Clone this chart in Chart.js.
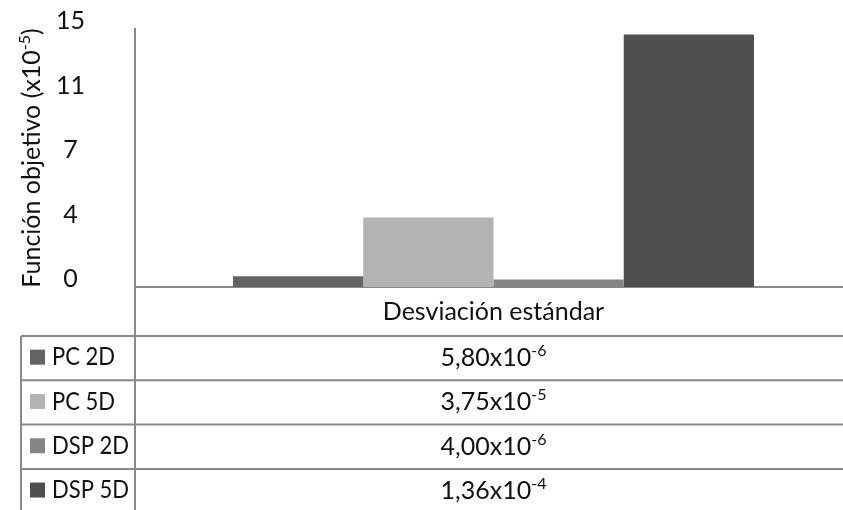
<!DOCTYPE html>
<html>
<head>
<meta charset="utf-8">
<script src="https://cdn.jsdelivr.net/npm/chart.js@4/dist/chart.umd.min.js"></script>
<style>
  html, body { margin: 0; padding: 0; overflow: hidden; background: #fff; }
  #wrap { width: 852px; height: 510px; position: relative; }
</style>
</head>
<body>
<div id="wrap"><canvas id="c"></canvas></div>
<script>
// Objective function standard deviation per method, in units of 1e-5
const categories = ['Desviación estándar'];
const seriesNames = ['PC 2D', 'PC 5D', 'DSP 2D', 'DSP 5D'];
const seriesValues = [0.58, 3.75, 0.40, 13.6];
const seriesColors = ['#636363', '#b3b3b3', '#848484', '#4f4f4f'];
const yTickLabels = ['0', '4', '7', '11', '15'];
const yTitleMain = 'Función objetivo (x10';
const yTitleSup = '-5';
const yTitleEnd = ')';
const unitScale = 1e-5;

const FONT = 'Lato, "Open Sans", sans-serif';
const FONT_SIZE = 25;
const SUP_SIZE = 16;
const LINE_COLOR = '#898989';
const TEXT_COLOR = '#111';
const Y_MAX = 13.9;

// Scientific notation with a decimal comma: mantissa and exponent
function sciParts(v) {
  const x = v * unitScale;
  const e = Math.floor(Math.log10(x));
  const m = x / Math.pow(10, e);
  return { mant: m.toFixed(2).replace('.', ','), exp: String(e) };
}

// Text followed by a raised superscript run and an optional tail
function drawSupText(ctx, x, y, main, sup, tail, align) {
  const f = `${FONT_SIZE}px ${FONT}`;
  const fs = `${SUP_SIZE}px ${FONT}`;
  ctx.font = f; const w1 = ctx.measureText(main).width;
  ctx.font = fs; const w2 = ctx.measureText(sup).width;
  ctx.font = f; const w3 = tail ? ctx.measureText(tail).width : 0;
  const total = w1 + w2 + w3;
  const sx = align === 'center' ? x - total / 2 : x;
  ctx.textAlign = 'left';
  ctx.textBaseline = 'alphabetic';
  ctx.font = f; ctx.fillText(main, sx, y);
  ctx.font = fs; ctx.fillText(sup, sx + w1, y - 10);
  if (tail) { ctx.font = f; ctx.fillText(tail, sx + w1 + w2, y); }
}

const tablePlugin = {
  id: 'dataTable',
  afterDraw(chart) {
    const ctx = chart.ctx;
    const area = chart.chartArea;
    const W = chart.width, H = chart.height;
    const headerBottom = area.bottom + 49;
    const rowH = 44.3;
    const tableLeft = 21;
    ctx.save();
    ctx.strokeStyle = LINE_COLOR;
    ctx.lineWidth = 2;
    ctx.beginPath();
    // axis line continued through the table
    ctx.moveTo(area.left, area.bottom);
    ctx.lineTo(area.left, H);
    // table left edge
    ctx.moveTo(tableLeft, headerBottom);
    ctx.lineTo(tableLeft, H);
    for (let i = 0; i < seriesNames.length; i++) {
      const y = headerBottom + i * rowH;
      ctx.moveTo(tableLeft, y);
      ctx.lineTo(W, y);
    }
    ctx.stroke();

    const cx = (area.left + area.right) / 2;
    seriesNames.forEach((name, i) => {
      const mid = headerBottom + i * rowH + rowH / 2;
      // legend key
      ctx.fillStyle = seriesColors[i];
      ctx.fillRect(30, mid - 8.5, 15, 15);
      // legend label, slightly condensed to fit the key column
      ctx.fillStyle = TEXT_COLOR;
      ctx.font = `${FONT_SIZE}px ${FONT}`;
      ctx.textAlign = 'left';
      ctx.textBaseline = 'middle';
      ctx.save();
      ctx.translate(52, mid - 1);
      ctx.scale(0.88, 1);
      ctx.fillText(name, 0, 0);
      ctx.restore();
      // value cell
      const p = sciParts(seriesValues[i]);
      drawSupText(ctx, cx, mid + 8, p.mant + 'x10', p.exp, '', 'center');
    });

    // rotated y-axis title with superscript
    ctx.translate(40, (area.top + area.bottom) / 2);
    ctx.rotate(-Math.PI / 2);
    drawSupText(ctx, 0, 0, yTitleMain, yTitleSup, yTitleEnd, 'center');
    ctx.restore();
  }
};

new Chart(document.getElementById('c'), {
  type: 'bar',
  data: {
    labels: categories,
    datasets: seriesNames.map((name, i) => ({
      label: name,
      data: [seriesValues[i]],
      backgroundColor: seriesColors[i],
      borderWidth: 0,
      categoryPercentage: 0.7266,
      barPercentage: 1.0
    }))
  },
  options: {
    responsive: true,
    maintainAspectRatio: false,
    animation: false,
    layout: { padding: { top: 29, left: 0, right: 0, bottom: 0 } },
    plugins: { legend: { display: false }, tooltip: { enabled: false } },
    scales: {
      x: {
        grid: { display: false, drawTicks: false },
        border: { display: true, color: LINE_COLOR, width: 2 },
        ticks: {
          font: { family: FONT, size: FONT_SIZE },
          color: TEXT_COLOR,
          padding: 10
        },
        afterFit(scale) { scale.height = 223; scale.paddingLeft = 0; scale.paddingRight = 0; }
      },
      y: {
        min: 0,
        max: Y_MAX,
        grid: { display: false, drawTicks: false },
        border: { display: true, color: LINE_COLOR, width: 2 },
        afterBuildTicks(scale) {
          scale.ticks = yTickLabels.map((_, i) => ({ value: i * Y_MAX / (yTickLabels.length - 1) }));
        },
        ticks: {
          font: { family: FONT, size: FONT_SIZE },
          color: TEXT_COLOR,
          crossAlign: 'center',
          padding: 50,
          labelOffset: -8,
          callback: (v, i) => yTickLabels[i]
        },
        afterFit(scale) { scale.width = 135; scale.paddingTop = 0; scale.paddingBottom = 0; }
      }
    }
  },
  plugins: [tablePlugin]
});
</script>
</body>
</html>
